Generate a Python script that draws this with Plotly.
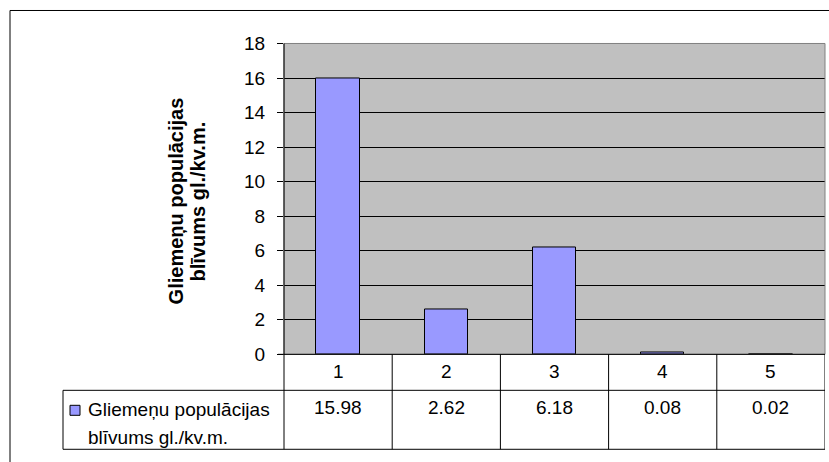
import plotly.graph_objects as go

categories = ["1", "2", "3", "4", "5"]
values = [15.98, 2.62, 6.18, 0.08, 0.02]
series_name = "Gliemeņu populācijas blīvums gl./kv.m."
legend_lines = ["Gliemeņu populācijas", "blīvums gl./kv.m."]
y_title_lines = ["Gliemeņu populācijas", "blīvums gl./kv.m."]
y_ticks = [0, 2, 4, 6, 8, 10, 12, 14, 16, 18]

W, H = 829, 462
FONT = "Arial, 'Liberation Sans', sans-serif"
FS = 19
FS_TITLE = 20

# empirical vertical correction for how the page is photographed
V_OFF, V_SCALE = 9.5, 0.955

def px(x):
    return x / W

def py(y):
    return 1 - ((y - V_OFF) / V_SCALE) / H

PL, PR, PT, PB = 284, 825, 43, 354   # plot area in pixels
ROW1, ROW2 = 390, 449               # table row boundaries
TL = 63                              # table left edge (legend cell)

xs = list(range(1, len(categories) + 1))

fig = go.Figure()
fig.add_trace(go.Bar(
    x=xs, y=values, name=series_name, width=0.4,
    marker=dict(color="#9999ff", line=dict(color="#000000", width=1)),
    showlegend=False, hoverinfo="skip",
))

shapes = []
annotations = []

shapes.append(dict(type="rect", xref="paper", yref="paper",
                   x0=px(10), y0=-0.2, x1=px(W + 20), y1=py(10),
                   line=dict(color="#000000", width=1), fillcolor="rgba(0,0,0,0)", layer="below"))
shapes.append(dict(type="rect", xref="paper", yref="paper",
                   x0=px(PL), y0=py(PB), x1=px(PR), y1=py(PT),
                   line=dict(color="#808080", width=1), fillcolor="rgba(0,0,0,0)", layer="above"))
shapes.append(dict(type="line", xref="paper", yref="paper",
                   x0=px(PL), x1=px(PL), y0=py(PT), y1=py(ROW2),
                   line=dict(color="#000000", width=1), layer="above"))
shapes.append(dict(type="line", xref="paper", yref="paper",
                   x0=px(PL - 6), x1=px(PR), y0=py(PB), y1=py(PB),
                   line=dict(color="#000000", width=1), layer="above"))
for yy in (ROW1, ROW2):
    shapes.append(dict(type="line", xref="paper", yref="paper",
                       x0=px(TL), x1=px(PR), y0=py(yy), y1=py(yy),
                       line=dict(color="#000000", width=1), layer="above"))
shapes.append(dict(type="line", xref="paper", yref="paper",
                   x0=px(TL), x1=px(TL), y0=py(ROW1), y1=py(ROW2),
                   line=dict(color="#000000", width=1), layer="above"))
for i in range(1, len(categories) + 1):
    shapes.append(dict(type="line", xref="x", yref="paper",
                       x0=i + 0.5, x1=i + 0.5, y0=py(ROW2), y1=py(PB),
                       line=dict(color="#000000", width=1), layer="above"))

# legend key
shapes.append(dict(type="rect", xref="paper", yref="paper",
                   x0=px(70), x1=px(80), y0=py(415), y1=py(405),
                   line=dict(color="#000000", width=1), fillcolor="#9999ff", layer="above"))

for xi, cat, v in zip(xs, categories, values):
    annotations.append(dict(x=xi, y=py(371), xref="x", yref="paper", text=cat,
                            showarrow=False, xanchor="center", yanchor="middle",
                            font=dict(family=FONT, size=FS, color="#000000")))
    annotations.append(dict(x=xi, y=py(407), xref="x", yref="paper", text=f"{v:.2f}",
                            showarrow=False, xanchor="center", yanchor="middle",
                            font=dict(family=FONT, size=FS, color="#000000")))

for line, yy in zip(legend_lines, (409, 437)):
    annotations.append(dict(x=px(86), y=py(yy), xref="paper", yref="paper", text=line,
                            showarrow=False, xanchor="left", yanchor="middle",
                            font=dict(family=FONT, size=FS, color="#000000")))

# y axis title, two rotated lines
for line, xx in zip(y_title_lines, (176, 198)):
    annotations.append(dict(x=px(xx), y=py(201), xref="paper", yref="paper",
                            text="<b>" + line + "</b>",
                            textangle=-90, showarrow=False, xanchor="center", yanchor="middle",
                            font=dict(family=FONT, size=FS_TITLE, color="#000000")))

fig.update_layout(
    width=W, height=H,
    margin=dict(l=0, r=0, t=0, b=0),
    paper_bgcolor="#ffffff",
    plot_bgcolor="#c0c0c0",
    bargap=0,
    shapes=shapes,
    annotations=annotations,
    xaxis=dict(domain=[px(PL), px(PR)], range=[0.5, len(categories) + 0.5],
               showticklabels=False, showgrid=False, zeroline=False, showline=False,
               ticks="", fixedrange=True),
    yaxis=dict(domain=[py(PB), py(PT)], range=[0, 18], tickvals=y_ticks,
               ticktext=[str(t) for t in y_ticks],
               showgrid=True, gridcolor="#000000", gridwidth=1,
               zeroline=False, showline=False,
               ticks="outside", ticklen=6, tickcolor="#000000", tickwidth=1,
               ticklabelstandoff=8,
               tickfont=dict(family=FONT, size=FS, color="#000000"), fixedrange=True),
)

fig.write_html("out.html", config={"displayModeBar": False},
               post_script="document.body.style.margin='0';document.body.style.overflow='hidden';")
